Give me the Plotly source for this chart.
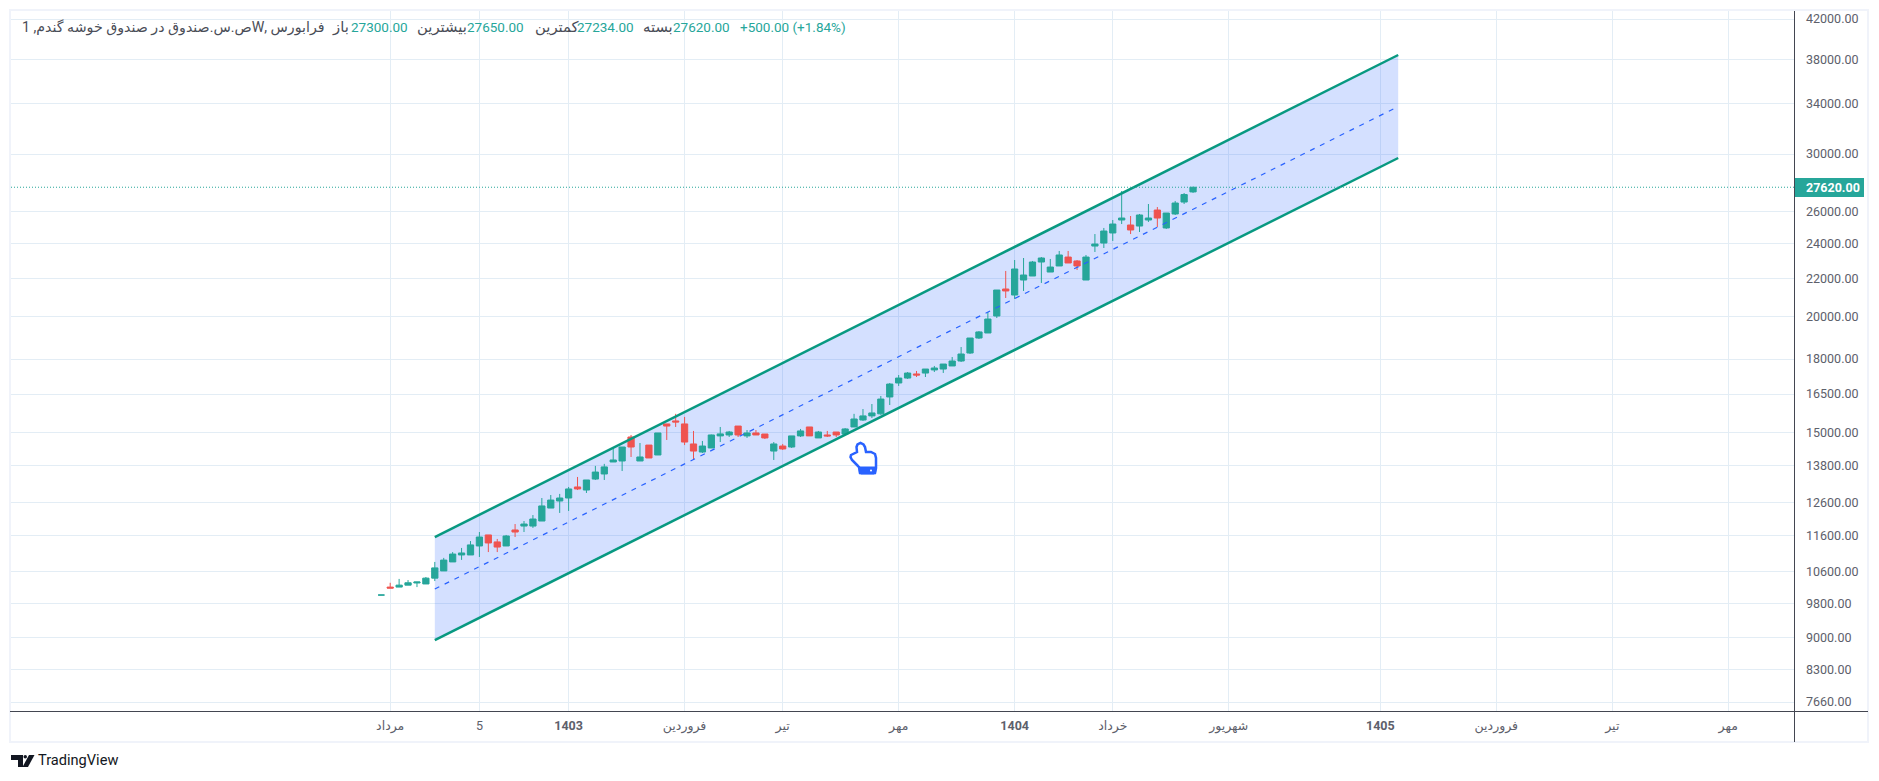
"""
plot.py
Log scale candles with a rising channel, drawn like the TradingView widget.
"""
import numpy as np
import plotly.graph_objects as go

W, H = 1879, 781
LEFT, RIGHT, TOP, BOTTOM = 11, 1794, 11, 711

GREEN = "#26A69A"
RED = "#EF5350"
LINE_TEAL = "#089981"
BLUE = "#2962FF"
GRID = "#E3EDF5"
AXIS = "#434651"
BORDER = "#F0F3FA"
TEXT = "#5D606B"

opens = [10000, 10200, 10200, 10250, 10305, 10280, 10430, 10620, 10860, 11050, 11050, 11300,
         11615, 11415, 11300, 11760, 11875, 11875, 12025, 12420, 12640, 12735, 13090, 12990,
         13350, 13520, 13930, 13965, 14825, 13965, 14530, 14175, 15315, 15430, 15315, 14570,
         14280, 14425, 14865, 14900, 15235, 14865, 14975, 14935, 14315, 14495, 14460, 14865,
         15200, 14790, 14900, 15010, 14935, 15200, 15465, 15625, 15705, 16380, 16960, 17170,
         17345, 17385, 17520, 17560, 17695, 17915, 18275, 18970, 19210, 20040, 21435, 21115,
         21920, 22140, 22925, 22360, 22700, 23210, 22985, 21920, 23855, 24035, 24645, 25455,
         25140, 25075, 25455, 26095, 24955, 25840, 26620, 27300]
highs = [10000, 10310, 10410, 10380, 10330, 10460, 10860, 10970, 11130, 11245, 11440, 11700,
         11615, 11500, 11615, 11935, 12025, 12205, 12735, 12830, 12865, 13090, 13420, 13320,
         13795, 13865, 14460, 14460, 14900, 14605, 14530, 14975, 15315, 15705, 15585, 15050,
         14680, 14915, 15200, 15050, 15235, 15085, 15085, 14935, 14640, 14570, 14865, 15125,
         15200, 15050, 15050, 15010, 15160, 15705, 15895, 16095, 16420, 16960, 17300, 17430,
         17475, 17560, 17695, 17780, 18095, 18550, 18970, 19305, 20240, 21380, 22420, 23040,
         23155, 22985, 23210, 23100, 23565, 23565, 23040, 23330, 24580, 24955, 25455, 27360,
         25710, 25840, 26490, 26290, 25900, 26690, 27225, 27650]
lows = [10000, 10175, 10200, 10250, 10200, 10280, 10355, 10620, 10860, 10915, 11050, 10995,
        11130, 11130, 11300, 11555, 11700, 11820, 12025, 12420, 12270, 12330, 12990, 12895,
        13320, 13320, 13930, 13620, 14105, 13965, 14070, 14175, 14715, 15200, 14530, 14000,
        14245, 14425, 14640, 14825, 14825, 14790, 14900, 14750, 14000, 14355, 14425, 14825,
        14865, 14790, 14825, 14825, 14935, 15200, 15430, 15545, 15665, 16055, 16835, 17130,
        17215, 17215, 17430, 17390, 17695, 17870, 18230, 18925, 19210, 19940, 20960, 20910,
        21330, 22140, 21760, 22360, 22700, 22870, 22475, 21920, 23505, 23740, 24160, 25200,
        24580, 24705, 25330, 25015, 24895, 25775, 26490, 27234]
closes = [10000, 10175, 10250, 10310, 10330, 10430, 10700, 10910, 11075, 11105, 11330, 11555,
          11385, 11270, 11585, 11700, 11935, 12085, 12485, 12670, 12735, 13025, 13025, 13320,
          13585, 13760, 14000, 14460, 14460, 14105, 14070, 14975, 15235, 15390, 14640, 14315,
          14495, 14900, 14940, 15010, 14900, 14975, 14900, 14790, 14570, 14390, 14865, 15050,
          14865, 15010, 14865, 14900, 15125, 15505, 15625, 15740, 16295, 16915, 17170, 17385,
          17300, 17560, 17605, 17780, 17915, 18230, 18970, 19260, 19890, 21380, 21330, 22530,
          22195, 22925, 23155, 22640, 23330, 22870, 22700, 23210, 23975, 24765, 25200, 25580,
          24830, 25775, 25580, 25580, 25900, 26555, 27120, 27620]

# channel ends: first bar index, last bar index
channel_x = [6, 114]
channel_top = [11555, 38397]
channel_mid = [10151, 33773]
channel_bottom = [8938, 29707]

y_ticks = [42000, 38000, 34000, 30000, 26000, 24000, 22000, 20000, 18000, 16500, 15000,
           13800, 12600, 11600, 10600, 9800, 9000, 8300, 7660]
x_ticks = [1, 11, 21, 34, 45, 58, 71, 82, 95, 112, 125, 138, 151]
x_labels = ["مرداد", "5", "<b>1403</b>", "فروردین", "تیر", "مهر", "<b>1404</b>", "خرداد",
            "شهریور", "<b>1405</b>", "فروردین", "تیر", "مهر"]

title_text = "فرابورس ,Wص.س.صندوق در صندوق خوشه گندم, 1"
last_price = 27620
# label, value, left edge of the label, left edge of the value
legend_items = [("باز", "27300.00", 331, 350), ("بیشترین", "27650.00", 416, 466),
                ("کمترین", "27234.00", 534, 576), ("بسته", "27620.00", 642, 672),
                ("", "+500.00 (+1.84%)", 739, 739)]

x_range = [-41.51, 158.37]
y_range = [np.log10(7491), np.log10(42845)]
bars = np.arange(len(opens))


def px(x):
    return (x - LEFT) / (RIGHT - LEFT)


def py(y):
    return (BOTTOM - y) / (BOTTOM - TOP)


def path(points):
    return "M" + "L".join(f"{px(x):.5f},{py(y):.5f}" for x, y in points) + "Z"


def line(x0, y0, x1, y1, color, width=1):
    return dict(type="line", xref="paper", yref="paper", x0=px(x0), x1=px(x1), y0=py(y0), y1=py(y1),
                line=dict(color=color, width=width))


def label(x, y, text, color=TEXT, size=12.5, xanchor="left"):
    return dict(xref="paper", yref="paper", x=px(x), y=py(y), text=text, showarrow=False,
                xanchor=xanchor, yanchor="middle", xshift=0, borderpad=0, align="left",
                font=dict(family="Roboto, DejaVu Sans, sans-serif", size=size, color=color))


fig = go.Figure()
# band goes on the lower axes so the candles stay clean on top of it
fig.add_trace(go.Scatter(x=channel_x + channel_x[::-1], y=channel_top + channel_bottom[::-1],
                         fill="toself", fillcolor="rgba(41,98,255,0.2)", mode="none", hoverinfo="skip"))
fig.add_trace(go.Candlestick(x=bars, open=opens, high=highs, low=lows, close=closes,
                             increasing=dict(line=dict(color=GREEN, width=1), fillcolor=GREEN),
                             decreasing=dict(line=dict(color=RED, width=1), fillcolor=RED),
                             whiskerwidth=0, xaxis="x2", yaxis="y2"))
for vals in (channel_top, channel_bottom):
    fig.add_trace(go.Scatter(x=channel_x, y=vals, mode="lines", line=dict(color=LINE_TEAL, width=2.5),
                             xaxis="x2", yaxis="y2"))
fig.add_trace(go.Scatter(x=channel_x, y=channel_mid, mode="lines",
                         line=dict(color=BLUE, width=1.2, dash="5px,6px"), xaxis="x2", yaxis="y2"))
fig.add_trace(go.Scatter(x=x_range, y=[last_price, last_price], mode="lines",
                         line=dict(color=GREEN, width=1, dash="1px,2px"), xaxis="x2", yaxis="y2"))

# hand cursor sticker
hand = [(850.5, 457), (851, 455), (857, 452), (856.5, 447), (857.5, 444.5), (860.5, 443), (863.5, 444.5),
        (865, 447), (866, 452), (871, 452), (875, 454), (876, 458), (876, 468), (875, 473), (860, 473),
        (859, 467), (857, 465), (852, 460)]
cuff = [(859, 467), (876, 467), (875.5, 473), (874, 474), (861, 474), (859.5, 473)]
shapes = [
    dict(type="path", xref="paper", yref="paper", path=path(hand), line=dict(color=BLUE, width=2.5),
         fillcolor="white"),
    dict(type="path", xref="paper", yref="paper", path=path(cuff), line=dict(color=BLUE, width=1),
         fillcolor=BLUE),
    dict(type="circle", xref="paper", yref="paper", x0=px(870), x1=px(872), y0=py(471.5), y1=py(469.5),
         fillcolor="white", line=dict(width=0)),
]
# frame and axis rules
shapes += [
    dict(type="rect", xref="paper", yref="paper", x0=px(10), x1=px(1868), y0=py(742), y1=py(10),
         line=dict(color=BORDER, width=2)),
    line(10, BOTTOM + 0.5, 1868, BOTTOM + 0.5, AXIS),
    line(RIGHT + 0.5, TOP, RIGHT + 0.5, 742, AXIS),
    dict(type="rect", xref="paper", yref="paper", x0=px(1795), x1=px(1864), y0=py(197), y1=py(178),
         fillcolor=GREEN, line=dict(width=0)),
]
# TradingView mark
logo_parts = [
    [(11, 755), (23, 755), (23, 767), (18, 767), (18, 760), (11, 760)],
    [(28, 767), (22.5, 767), (29, 755), (34.5, 755)],
]
shapes += [dict(type="path", xref="paper", yref="paper", path=path(p), fillcolor="#131722", line=dict(width=0))
           for p in logo_parts]
shapes.append(dict(type="circle", xref="paper", yref="paper", x0=px(23.5), x1=px(27), y0=py(758.5), y1=py(755),
                   fillcolor="#131722", line=dict(width=0)))

annotations = [
    label(21, 27, "\u202B" + title_text + "\u202C", "#4A4D57", 14.2),
    label(1805, 187.5, "<b>27620.00</b>", "white", 12.5),
    label(37, 760, "TradingView", "#131722", 14.6),
]
for name, value, name_x, value_x in legend_items:
    if name:
        annotations.append(label(name_x, 27, name, "#4A4D57", 14.8))
    annotations.append(label(value_x, 27, value, GREEN, 13.5))

fig.update_layout(
    width=W, height=H, showlegend=False, hovermode=False, paper_bgcolor="white", plot_bgcolor="white",
    margin=dict(l=LEFT, r=W - RIGHT, t=TOP, b=H - BOTTOM, autoexpand=False),
    font=dict(family="Roboto, DejaVu Sans, sans-serif", size=12.5, color=TEXT),
    boxgap=0.3, boxgroupgap=0, shapes=shapes, annotations=annotations,
    xaxis=dict(range=x_range, tickvals=x_ticks, ticktext=x_labels, showgrid=True, gridcolor=GRID, gridwidth=1,
               zeroline=False, showline=False, ticks="", ticklabelstandoff=5, rangeslider=dict(visible=False),
               tickfont=dict(size=12.5, color=TEXT), fixedrange=True),
    yaxis=dict(type="log", range=y_range, side="right", tickvals=y_ticks,
               ticktext=[f"{v:.2f}" for v in y_ticks], showgrid=True, gridcolor=GRID, gridwidth=1,
               zeroline=False, showline=False, ticks="", ticklabelstandoff=11,
               tickfont=dict(size=12.5, color=TEXT), fixedrange=True),
    xaxis2=dict(range=x_range, overlaying="x", visible=False, rangeslider=dict(visible=False), fixedrange=True),
    yaxis2=dict(type="log", range=y_range, overlaying="y", visible=False, fixedrange=True),
)

fig.write_html("out.html", config=dict(displayModeBar=False),
               post_script="document.body.style.margin='0';document.body.style.overflow='hidden';")
